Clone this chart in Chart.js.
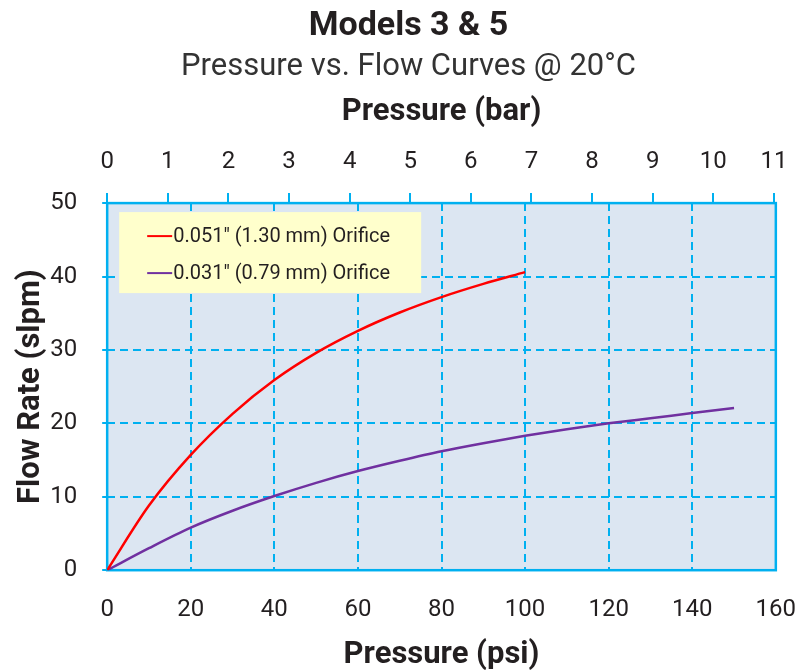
<!DOCTYPE html>
<html>
<head>
<meta charset="utf-8">
<script src="https://cdn.jsdelivr.net/npm/chart.js@4"></script>
<style>
  html, body { margin: 0; padding: 0; background: #fff; }
  #wrap { width: 804px; height: 671px; }
</style>
</head>
<body>
<div id="wrap"><canvas id="flowChart" width="804" height="671"></canvas></div>
<script>
// Data
const psiLarge = [0, 10, 20, 30, 40, 50, 60, 70, 80, 90, 100];
const flowLarge = [0, 8.8, 15.7, 21.3, 25.9, 29.6, 32.6, 35.1, 37.2, 39.0, 40.6];
const psiSmall = [0, 10, 20, 30, 40, 50, 60, 70, 80, 90, 100, 110, 120, 130, 140, 150];
const flowSmall = [0, 3.0, 5.8, 8.1, 10.1, 11.9, 13.5, 14.9, 16.2, 17.3, 18.3, 19.2, 20.0, 20.7, 21.4, 22.1];
const seriesLabels = ['0.051" (1.30 mm) Orifice', '0.031" (0.79 mm) Orifice'];
const psiMax = 160;
const flowMax = 50;
const PSI_PER_BAR = 14.5038;

const FONT = 'Roboto, "DejaVu Sans", sans-serif';
const INK = '#231f20';
const GRID = '#00b0f0';

function toPoints(xs, ys) {
    return xs.map((x, i) => ({ x: x, y: ys[i] }));
}

// Chart.js counts tick padding twice when sizing an axis; take one back off
function singlePadding(scale) {
    const p = scale.options.ticks.padding;
    if (scale.isHorizontal()) {
        scale.height -= p;
    } else {
        scale.width -= p;
    }
}

// plot area fill + solid frame
const plotFrame = {
    id: 'plotFrame',
    beforeDraw(chart) {
        const { ctx, chartArea: a } = chart;
        ctx.save();
        ctx.fillStyle = '#dce6f2';
        ctx.fillRect(a.left, a.top, a.right - a.left, a.bottom - a.top);
        ctx.restore();
    },
    beforeDatasetsDraw(chart) {
        const { ctx, chartArea: a } = chart;
        ctx.save();
        ctx.strokeStyle = GRID;
        ctx.lineWidth = 2.5;
        ctx.strokeRect(a.left, a.top, a.right - a.left, a.bottom - a.top);
        ctx.restore();
    }
};

// legend box drawn inside the plot, top-left
const insideLegend = {
    id: 'insideLegend',
    afterDatasetsDraw(chart) {
        const { ctx, chartArea: a } = chart;
        const x = a.left + 12, y = a.top + 9, w = 302, h = 81;
        ctx.save();
        ctx.fillStyle = '#ffffcc';
        ctx.fillRect(x, y, w, h);
        ctx.font = '20px ' + FONT;
        ctx.textBaseline = 'middle';
        chart.data.datasets.forEach((ds, i) => {
            const ly = y + 24 + i * 37;
            ctx.strokeStyle = ds.borderColor;
            ctx.lineWidth = 2;
            ctx.beginPath();
            ctx.moveTo(x + 28, ly);
            ctx.lineTo(x + 53, ly);
            ctx.stroke();
            ctx.fillStyle = INK;
            ctx.fillText(ds.label, x + 54, ly + 1);
        });
        ctx.restore();
    }
};

new Chart(document.getElementById('flowChart'), {
    type: 'line',
    data: {
        datasets: [{
            label: seriesLabels[0],
            data: toPoints(psiLarge, flowLarge),
            borderColor: '#ff0000',
            borderWidth: 2.5,
            pointRadius: 0,
            cubicInterpolationMode: 'monotone',
            xAxisID: 'x',
            yAxisID: 'y'
        }, {
            label: seriesLabels[1],
            data: toPoints(psiSmall, flowSmall),
            borderColor: '#7030a0',
            borderWidth: 2.5,
            pointRadius: 0,
            cubicInterpolationMode: 'monotone',
            xAxisID: 'x',
            yAxisID: 'y'
        }]
    },
    options: {
        responsive: false,
        animation: false,
        layout: { padding: { left: 13, right: 0, top: 6, bottom: 0 } },
        plugins: {
            legend: { display: false },
            tooltip: { enabled: false },
            title: {
                display: true,
                text: 'Models 3 & 5',
                color: INK,
                font: { family: FONT, size: 34, weight: 'bold' },
                padding: { top: 0, bottom: 2 }
            },
            subtitle: {
                display: true,
                text: 'Pressure vs. Flow Curves @ 20°C',
                color: '#333',
                font: { family: FONT, size: 31 },
                padding: { top: 0, bottom: 8 }
            }
        },
        scales: {
            x: {
                type: 'linear',
                position: 'bottom',
                min: 0,
                max: psiMax,
                ticks: { stepSize: 20, color: INK, font: { family: FONT, size: 24 }, padding: 0 },
                // transparent tick marks give the gap under the plot
                grid: { color: GRID, lineWidth: 2, tickLength: 25, tickColor: 'rgba(0,0,0,0)' },
                border: { display: false, dash: [8, 5] },
                title: {
                    display: true,
                    text: 'Pressure (psi)',
                    color: INK,
                    font: { family: FONT, size: 31, weight: 'bold', lineHeight: 1.0 },
                    padding: { top: 16, bottom: 0 }
                }
            },
            x2: {
                type: 'linear',
                position: 'top',
                min: 0,
                max: psiMax / PSI_PER_BAR,
                ticks: { stepSize: 1, includeBounds: false, color: INK, font: { family: FONT, size: 24 }, padding: 16.6 },
                grid: { color: GRID, lineWidth: 2, drawOnChartArea: false, tickLength: 10 },
                border: { display: false },
                afterFit: singlePadding,
                title: {
                    display: true,
                    text: 'Pressure (bar)',
                    color: INK,
                    font: { family: FONT, size: 31, weight: 'bold' },
                    padding: { top: 0, bottom: 16.5 }
                }
            },
            y: {
                min: 0,
                max: flowMax,
                ticks: { stepSize: 10, color: INK, font: { family: FONT, size: 24 }, padding: 25 },
                grid: { color: GRID, lineWidth: 2, tickLength: 5, tickBorderDash: [] },
                border: { display: false, dash: [8, 5] },
                afterFit: singlePadding,
                title: {
                    display: true,
                    text: 'Flow Rate (slpm)',
                    color: INK,
                    font: { family: FONT, size: 31, weight: 'bold' },
                    padding: { top: 0, bottom: 0 }
                }
            }
        }
    },
    plugins: [plotFrame, insideLegend]
});
</script>
</body>
</html>
